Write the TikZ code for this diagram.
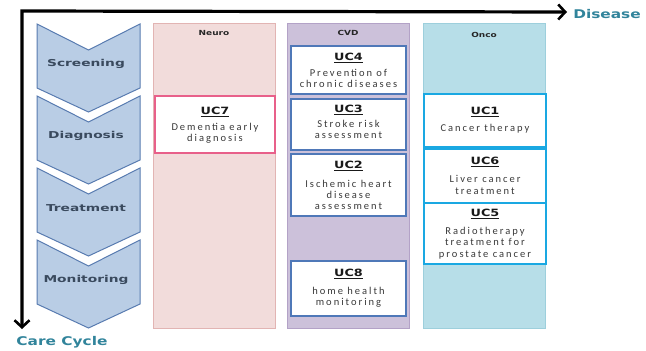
\documentclass[tikz,border=0pt]{standalone}
\usepackage{fontspec}
\setmainfont{Carlito}
\newfontfamily\bodyfont{Carlito}[LetterSpace=19]
\newfontfamily\headfont{DejaVu Sans}[FakeStretch=1.28]
\newfontfamily\chevfont{DejaVu Sans}[FakeStretch=1.45]
\usetikzlibrary{arrows.meta}
\definecolor{chevfill}{HTML}{B9CDE5}
\definecolor{chevdraw}{HTML}{587BB0}
\definecolor{chevtext}{HTML}{3A4A5E}
\definecolor{neurofill}{HTML}{F2DCDB}
\definecolor{neurodraw}{HTML}{E2B4B3}
\definecolor{neurobox}{HTML}{E8608A}
\definecolor{cvdfill}{HTML}{CCC1DA}
\definecolor{cvddraw}{HTML}{B3A2C7}
\definecolor{cvdbox}{HTML}{4F78B8}
\definecolor{oncofill}{HTML}{B7DEE8}
\definecolor{oncodraw}{HTML}{9DCFDC}
\definecolor{oncobox}{HTML}{1AA8E2}
\definecolor{axistext}{HTML}{31849B}
\definecolor{bodytext}{HTML}{3A3A3A}
\tikzset{
  chev/.style={fill=chevfill, draw=chevdraw, line width=1pt, line join=miter},
  chevlabel/.style={font=\chevfont\bfseries\fontsize{9.5}{11}\selectfont, text=chevtext, inner sep=0pt},
  column/.style={line width=1pt},
  collabel/.style={font=\headfont\bfseries\fontsize{7}{8}\selectfont, text=black!85, inner sep=0pt},
  ucbox/.style={fill=white, line width=1.6pt},
  uctitle/.style={font=\headfont\bfseries\fontsize{10}{11}\selectfont, text=black!90, inner sep=0pt},
  ucbody/.style={font=\bodyfont\fontsize{10.5}{11.2}\selectfont, text=bodytext, align=center, inner sep=0pt},
  axis/.style={line width=3.2pt, line join=miter, {Straight Barb[length=7pt,width=15pt,line width=2.6pt]}-{Straight Barb[length=7pt,width=15pt,line width=2.6pt]}},
  axislabel/.style={font=\headfont\bfseries\fontsize{12}{14}\selectfont, text=axistext, inner sep=0pt}
}
\begin{document}
\begin{tikzpicture}[x=1pt,y=-1pt]
\useasboundingbox (0,0) rectangle (646,351);

% columns
\draw[column, fill=neurofill, draw=neurodraw] (153,23) rectangle (275,328);
\draw[column, fill=cvdfill, draw=cvddraw] (287,23) rectangle (409,328);
\draw[column, fill=oncofill, draw=oncodraw] (423,23) rectangle (545,328);
\node[collabel] (neuro) at (214,33) {Neuro};
\node[collabel] (cvd) at (348,33) {CVD};
\node[collabel] (onco) at (484,35) {Onco};

% chevrons
\foreach \i/\lab in {0/Screening,1/Diagnosis,2/Treatment,3/Monitoring}{
  \pgfmathsetmacro{\t}{24+72*\i}
  \draw[chev] (37,\t) -- (88.5,\t+26) -- (140,\t) -- (140,\t+64) -- (88.5,\t+88) -- (37,\t+64) -- cycle;
  \node[chevlabel] (chev\i) at (86,\t+40) {\lab};
}

% Neuro
\draw[ucbox, draw=neurobox] (155,96) rectangle (275,153);
\node[uctitle] (uc7t) at (215,112) {\underline{UC7}};
\node[ucbody] (uc7b) at (215,133.5) {Dementia early\\diagnosis};

% CVD
\draw[ucbox, draw=cvdbox] (291,46) rectangle (406,94);
\node[uctitle] (uc4t) at (348.5,58) {\underline{UC4}};
\node[ucbody] (uc4b) at (348.5,78.5) {Prevention of\\chronic diseases};

\draw[ucbox, draw=cvdbox] (291,99) rectangle (406,150);
\node[uctitle] (uc3t) at (348.5,110) {\underline{UC3}};
\node[ucbody] (uc3b) at (348.5,129.5) {Stroke risk\\assessment};

\draw[ucbox, draw=cvdbox] (291,154) rectangle (406,216);
\node[uctitle] (uc2t) at (348.5,166) {\underline{UC2}};
\node[ucbody] (uc2b) at (348.5,195) {Ischemic heart\\disease\\assessment};

\draw[ucbox, draw=cvdbox] (291,261) rectangle (406,316);
\node[uctitle] (uc8t) at (348.5,274) {\underline{UC8}};
\node[ucbody] (uc8b) at (348.5,297.5) {home health\\monitoring};

% Onco
\draw[ucbox, draw=oncobox] (424,94) rectangle (546,147);
\node[uctitle] (uc1t) at (485,112) {\underline{UC1}};
\node[ucbody] (uc1b) at (485,129) {Cancer therapy};

\draw[ucbox, draw=oncobox] (424,149) rectangle (546,203);
\node[uctitle] (uc6t) at (485,162) {\underline{UC6}};
\node[ucbody] (uc6b) at (485,185) {Liver cancer\\treatment};

\draw[ucbox, draw=oncobox] (424,203) rectangle (546,264);
\node[uctitle] (uc5t) at (485,214) {\underline{UC5}};
\node[ucbody] (uc5b) at (485,243) {Radiotherapy\\treatment for\\prostate cancer};

% axes
\coordinate (corner) at (22,11);
\coordinate (xend) at (567,12);
\coordinate (yend) at (22,329);
\draw[axis] (xend) -- (corner) -- (yend);
\node[axislabel] (disease) at (607,14) {Disease};
\node[axislabel] (care) at (62,342) {Care Cycle};
\end{tikzpicture}
\end{document}
